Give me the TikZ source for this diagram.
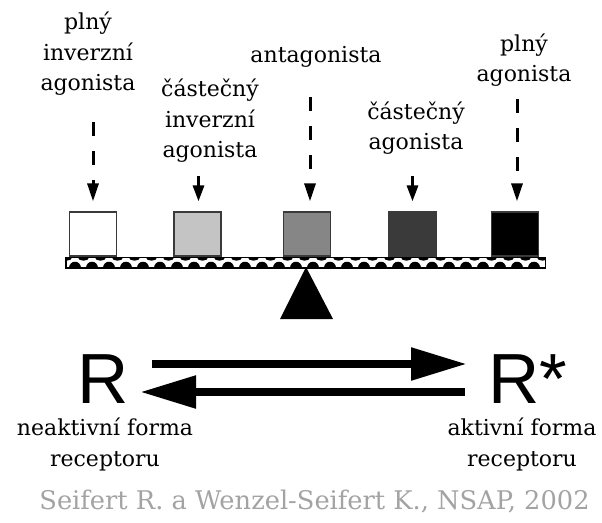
\documentclass[tikz,border=0pt]{standalone}
\usepackage{fontspec}
\setmainfont{DejaVu Serif}
\newfontfamily\rfont{Liberation Sans}
\usetikzlibrary{arrows.meta}
\definecolor{capgray}{HTML}{A3A3A3}
\definecolor{g2}{HTML}{C4C4C4}
\definecolor{g3}{HTML}{868686}
\definecolor{g4}{HTML}{3A3A3A}
\definecolor{edge}{HTML}{3A3A3A}
\begin{document}
\begin{tikzpicture}[x=1pt,y=-1pt,
  lab/.style={font=\fontsize{22}{30.5}\selectfont, align=center, inner sep=0pt, anchor=south},
  blk/.style={draw=edge, line width=1.2pt, minimum width=47pt, minimum height=44pt, inner sep=0pt},
  dar/.style={line width=3pt, dash pattern=on 14pt off 15pt, -{Triangle[length=18pt,width=11pt]}},
  sar/.style={line width=3pt, -{Triangle[length=16pt,width=11pt]}},
  big/.style={line width=8.5pt, -{Triangle[length=56pt,width=31pt]}},
  rlet/.style={font=\rfont\fontsize{71}{71}\selectfont, inner sep=0pt, anchor=base west}
]
\useasboundingbox (0,0) rectangle (602,522);

% labels
\node[lab] (l1) at (88,96) {plný\\inverzní\\agonista};
\node[lab] (l2) at (210,163) {částečný\\inverzní\\agonista};
\node[lab] (l3) at (316,68) {antagonista};
\node[lab] (l4) at (416,155) {částečný\\agonista};
\node[lab] (l5) at (524,87) {plný\\agonista};

% bar
\node[draw, line width=1pt, fill=white, minimum width=479pt, minimum height=10pt, inner sep=0pt] (bar) at (305.5,262.5) {};
\begin{scope}
  \clip (bar.south west) rectangle (bar.north east);
  \foreach \i in {0,...,28} {
    \fill (75+17*\i,268) ellipse [x radius=6, y radius=6.3];
    \fill (66.5+17*\i,257.5) ellipse [x radius=5.5, y radius=3.2];
  }
\end{scope}
\draw[line width=1pt] (bar.south west) rectangle (bar.north east);

% boxes
\node[blk, fill=white] (b1) at (93,234) {};
\node[blk, fill=g2] (b2) at (197.5,234) {};
\node[blk, fill=g3] (b3) at (307,234) {};
\node[blk, fill=g4] (b4) at (412.5,234) {};
\node[blk, fill=black] (b5) at (515,234) {};

% fulcrum
\fill (306,267) -- (333,319) -- (280,319) -- cycle;

% ligand arrows
\draw[dar] ([yshift=89pt]b1.north) -- ([yshift=10pt]b1.north);
\draw[sar] ([xshift=1pt,yshift=35pt]b2.north) -- ([xshift=1pt,yshift=10pt]b2.north);
\draw[dar] ([xshift=3pt,yshift=114pt]b3.north) -- ([xshift=3pt,yshift=10pt]b3.north);
\draw[sar] ([yshift=35pt]b4.north) -- ([yshift=10pt]b4.north);
\draw[dar] ([xshift=2pt,yshift=112pt]b5.north) -- ([xshift=2pt,yshift=10pt]b5.north);

% receptor states
\node[rlet] (R) at (77,403) {R};
\node[rlet] (Rs) at (488.5,403) {R*};
\coordinate (f1) at (152,364);
\coordinate (f2) at (467,364);
\coordinate (g1) at (465,392);
\coordinate (g2) at (140,392);
\draw[big] (f1) -- (f2);
\draw[big] (g1) -- (g2);

\node[lab] (n1) at (105,471) {neaktivní forma\\receptoru};
\node[lab] (n2) at (522,471) {aktivní forma\\receptoru};

\node[font=\fontsize{25.7}{30}\selectfont, text=capgray, inner sep=0pt, anchor=base] (cap) at (314.5,509) {Seifert R. a Wenzel-Seifert K., NSAP, 2002};
\end{tikzpicture}
\end{document}
